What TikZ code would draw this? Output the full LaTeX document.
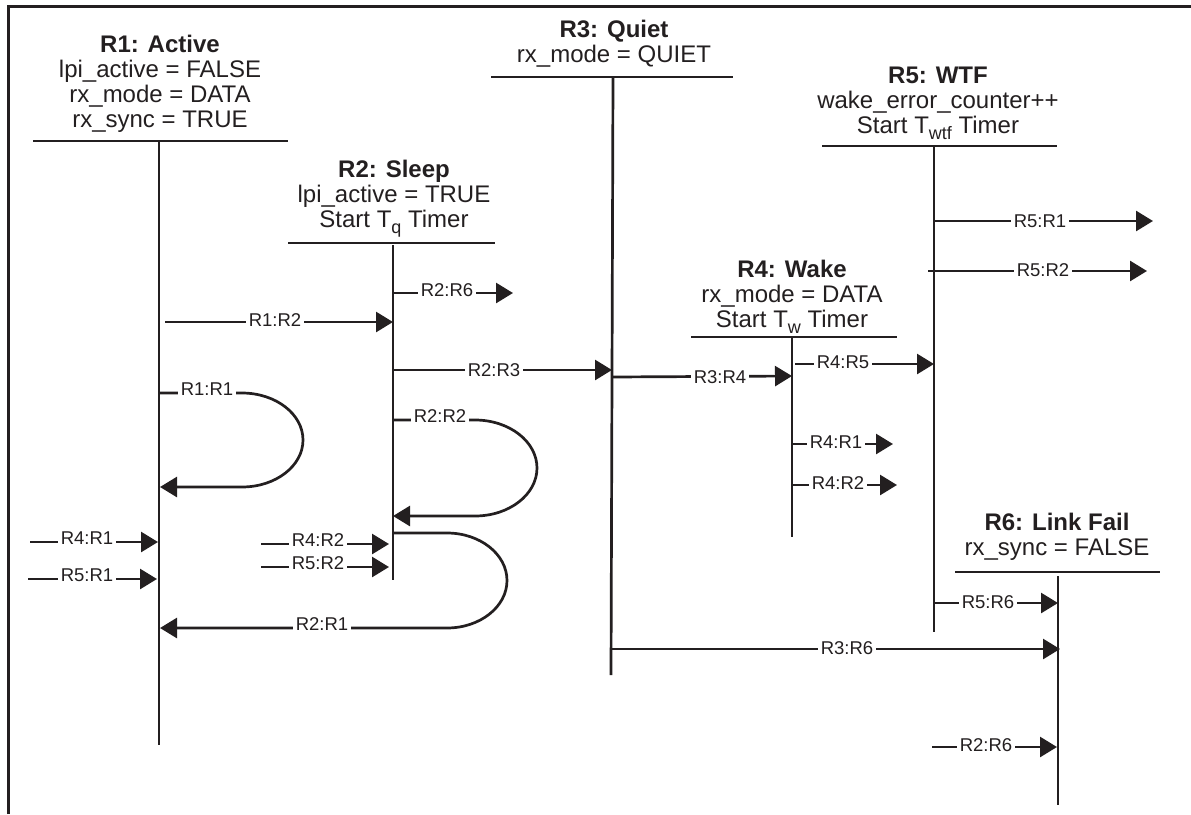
\documentclass[tikz,border=0pt]{standalone}
\usepackage{fontspec}
\setmainfont{Liberation Sans}
\usetikzlibrary{arrows.meta}
\definecolor{ink}{HTML}{231F20}
\newcommand{\mysub}[1]{\raisebox{-0.28em}{\fontsize{18}{18}\selectfont #1}}
\newcommand{\hdrtxt}[1]{\begin{tabular}[b]{@{}c@{}}#1\end{tabular}}
\begin{document}
\begin{tikzpicture}[x=1pt,y=-1pt,
  life/.style={line width=2.7pt,draw=ink},
  arr/.style={-{Triangle[length=17pt,width=20pt]},line width=2.7pt,draw=ink},
  lbl/.style={fill=white,inner xsep=3pt,inner ysep=1pt,font=\fontsize{18.5}{20}\selectfont,text=ink},
  hdr/.style={anchor=base,inner sep=0pt,font=\fontsize{24}{25}\selectfont,text=ink}]
\useasboundingbox (0,0) rectangle (1191,814);
% frame
\draw[line width=3pt,draw=ink] (8,814) -- (8,6) -- (1191,6);

% ---------- state headers ----------
\node[hdr] (h1) at (160,127) {\hdrtxt{\textbf{R1: Active}\\lpi\_active = FALSE\\rx\_mode = DATA\\rx\_sync = TRUE}};
\node[hdr] (h2) at (394,227) {\hdrtxt{\textbf{R2: Sleep}\\lpi\_active = TRUE\\Start T\mysub{q} Timer}};
\node[hdr] (h3) at (614,62) {\hdrtxt{\textbf{R3: Quiet}\\rx\_mode = QUIET}};
\node[hdr] (h4) at (792,327) {\hdrtxt{\textbf{R4: Wake}\\rx\_mode = DATA\\Start T\mysub{w} Timer}};
\node[hdr] (h5) at (938,133) {\hdrtxt{\textbf{R5: WTF}\\wake\_error\_counter++\\Start T\mysub{wtf} Timer}};
\node[hdr] (h6) at (1057,555) {\hdrtxt{\textbf{R6: Link Fail}\\rx\_sync = FALSE}};

% header bars
\draw[life] (33,141) -- (288,141);
\draw[life] (288,243) -- (495,243);
\draw[life] (491,77) -- (733,77);
\draw[life] (691,337) -- (897,337);
\draw[life] (822,146) -- (1057,146);
\draw[life] (955,572) -- (1160,572);

% lifelines
\coordinate (t1) at (159,141);  \coordinate (b1) at (159,745);
\coordinate (t2) at (393,245);  \coordinate (b2) at (393,580);
\coordinate (t3) at (613,77);   \coordinate (b3) at (611,675);
\coordinate (t4) at (792,337);  \coordinate (b4) at (792,537);
\coordinate (t5) at (934,146);  \coordinate (b5) at (934,632);
\coordinate (t6) at (1058,576); \coordinate (b6) at (1058,805);
\draw[life] (t1) -- (b1);
\draw[life] (t2) -- (b2);
\draw[life] (t3) -- (b3);
\draw[life] (t4) -- (b4);
\draw[life] (t5) -- (b5);
\draw[life] (t6) -- (b6);

% ---------- transitions ----------
% R1:R2
\coordinate (a1s) at (165,322); \coordinate (a1e) at (393,322);
\draw[arr] (a1s) -- (a1e); \node[lbl] (l1) at (275,320) {R1:R2};
% R2:R6 (top)
\coordinate (a2s) at (393,293); \coordinate (a2e) at (513,293);
\draw[arr] (a2s) -- (a2e); \node[lbl] (l2) at (447,290) {R2:R6};
% R2:R3
\coordinate (a3s) at (393,370); \coordinate (a3e) at (612,370);
\draw[arr] (a3s) -- (a3e); \node[lbl] (l3) at (494,370) {R2:R3};
% R3:R4
\coordinate (a4s) at (613,377); \coordinate (a4e) at (792,376);
\draw[arr] (a4s) -- (a4e); \node[lbl] (l4) at (720,377) {R3:R4};
% R4:R5
\coordinate (a5s) at (795,364); \coordinate (a5e) at (934,364);
\draw[arr] (a5s) -- (a5e); \node[lbl] (l5) at (843,362) {R4:R5};
% R4:R1 (out)
\coordinate (a6s) at (792,444); \coordinate (a6e) at (893,444);
\draw[arr] (a6s) -- (a6e); \node[lbl] (l6) at (836,442) {R4:R1};
% R4:R2 (out)
\coordinate (a7s) at (792,485); \coordinate (a7e) at (897,485);
\draw[arr] (a7s) -- (a7e); \node[lbl] (l7) at (838,483) {R4:R2};
% R5:R1 (out)
\coordinate (a8s) at (934,221); \coordinate (a8e) at (1153,221);
\draw[arr] (a8s) -- (a8e); \node[lbl] (l8) at (1040,221) {R5:R1};
% R5:R2 (out)
\coordinate (a9s) at (928,271); \coordinate (a9e) at (1147,271);
\draw[arr] (a9s) -- (a9e); \node[lbl] (l9) at (1043,270) {R5:R2};
% R5:R6
\coordinate (a10s) at (934,603); \coordinate (a10e) at (1058,603);
\draw[arr] (a10s) -- (a10e); \node[lbl] (l10) at (988,602) {R5:R6};
% R3:R6
\coordinate (a11s) at (611,649); \coordinate (a11e) at (1060,649);
\draw[arr] (a11s) -- (a11e); \node[lbl] (l11) at (847,648) {R3:R6};
% R2:R6 (in)
\coordinate (a12s) at (932,747); \coordinate (a12e) at (1057,747);
\draw[arr] (a12s) -- (a12e); \node[lbl] (l12) at (986,745) {R2:R6};
% R4:R1 (in)
\coordinate (a13s) at (30,542); \coordinate (a13e) at (158,542);
\draw[arr] (a13s) -- (a13e); \node[lbl] (l13) at (87,538) {R4:R1};
% R5:R1 (in)
\coordinate (a14s) at (28,579); \coordinate (a14e) at (157,579);
\draw[arr] (a14s) -- (a14e); \node[lbl] (l14) at (87,575) {R5:R1};
% R4:R2 (in)
\coordinate (a15s) at (261,544); \coordinate (a15e) at (389,544);
\draw[arr] (a15s) -- (a15e); \node[lbl] (l15) at (318,540) {R4:R2};
% R5:R2 (in)
\coordinate (a16s) at (261,567); \coordinate (a16e) at (389,567);
\draw[arr] (a16s) -- (a16e); \node[lbl] (l16) at (318,563) {R5:R2};

% ---------- loops ----------
% R1:R1
\coordinate (r11s) at (160,393); \coordinate (r11e) at (160,487);
\draw[arr] (r11s) -- (242,393) arc[start angle=-90,end angle=90,x radius=61,y radius=47] -- (r11e);
\node[lbl] (l17) at (207,389) {R1:R1};
% R2:R2
\coordinate (r22s) at (393,420); \coordinate (r22e) at (393,516);
\draw[arr] (r22s) -- (475,420) arc[start angle=-90,end angle=90,x radius=62,y radius=48] -- (r22e);
\node[lbl] (l18) at (440,416) {R2:R2};
% R2:R1
\coordinate (r21s) at (393,533); \coordinate (r21e) at (160,628);
\draw[arr] (r21s) -- (447,533) arc[start angle=-90,end angle=90,x radius=60,y radius=47.5] -- (r21e);
\node[lbl] (l19) at (322,624) {R2:R1};
\end{tikzpicture}
\end{document}
